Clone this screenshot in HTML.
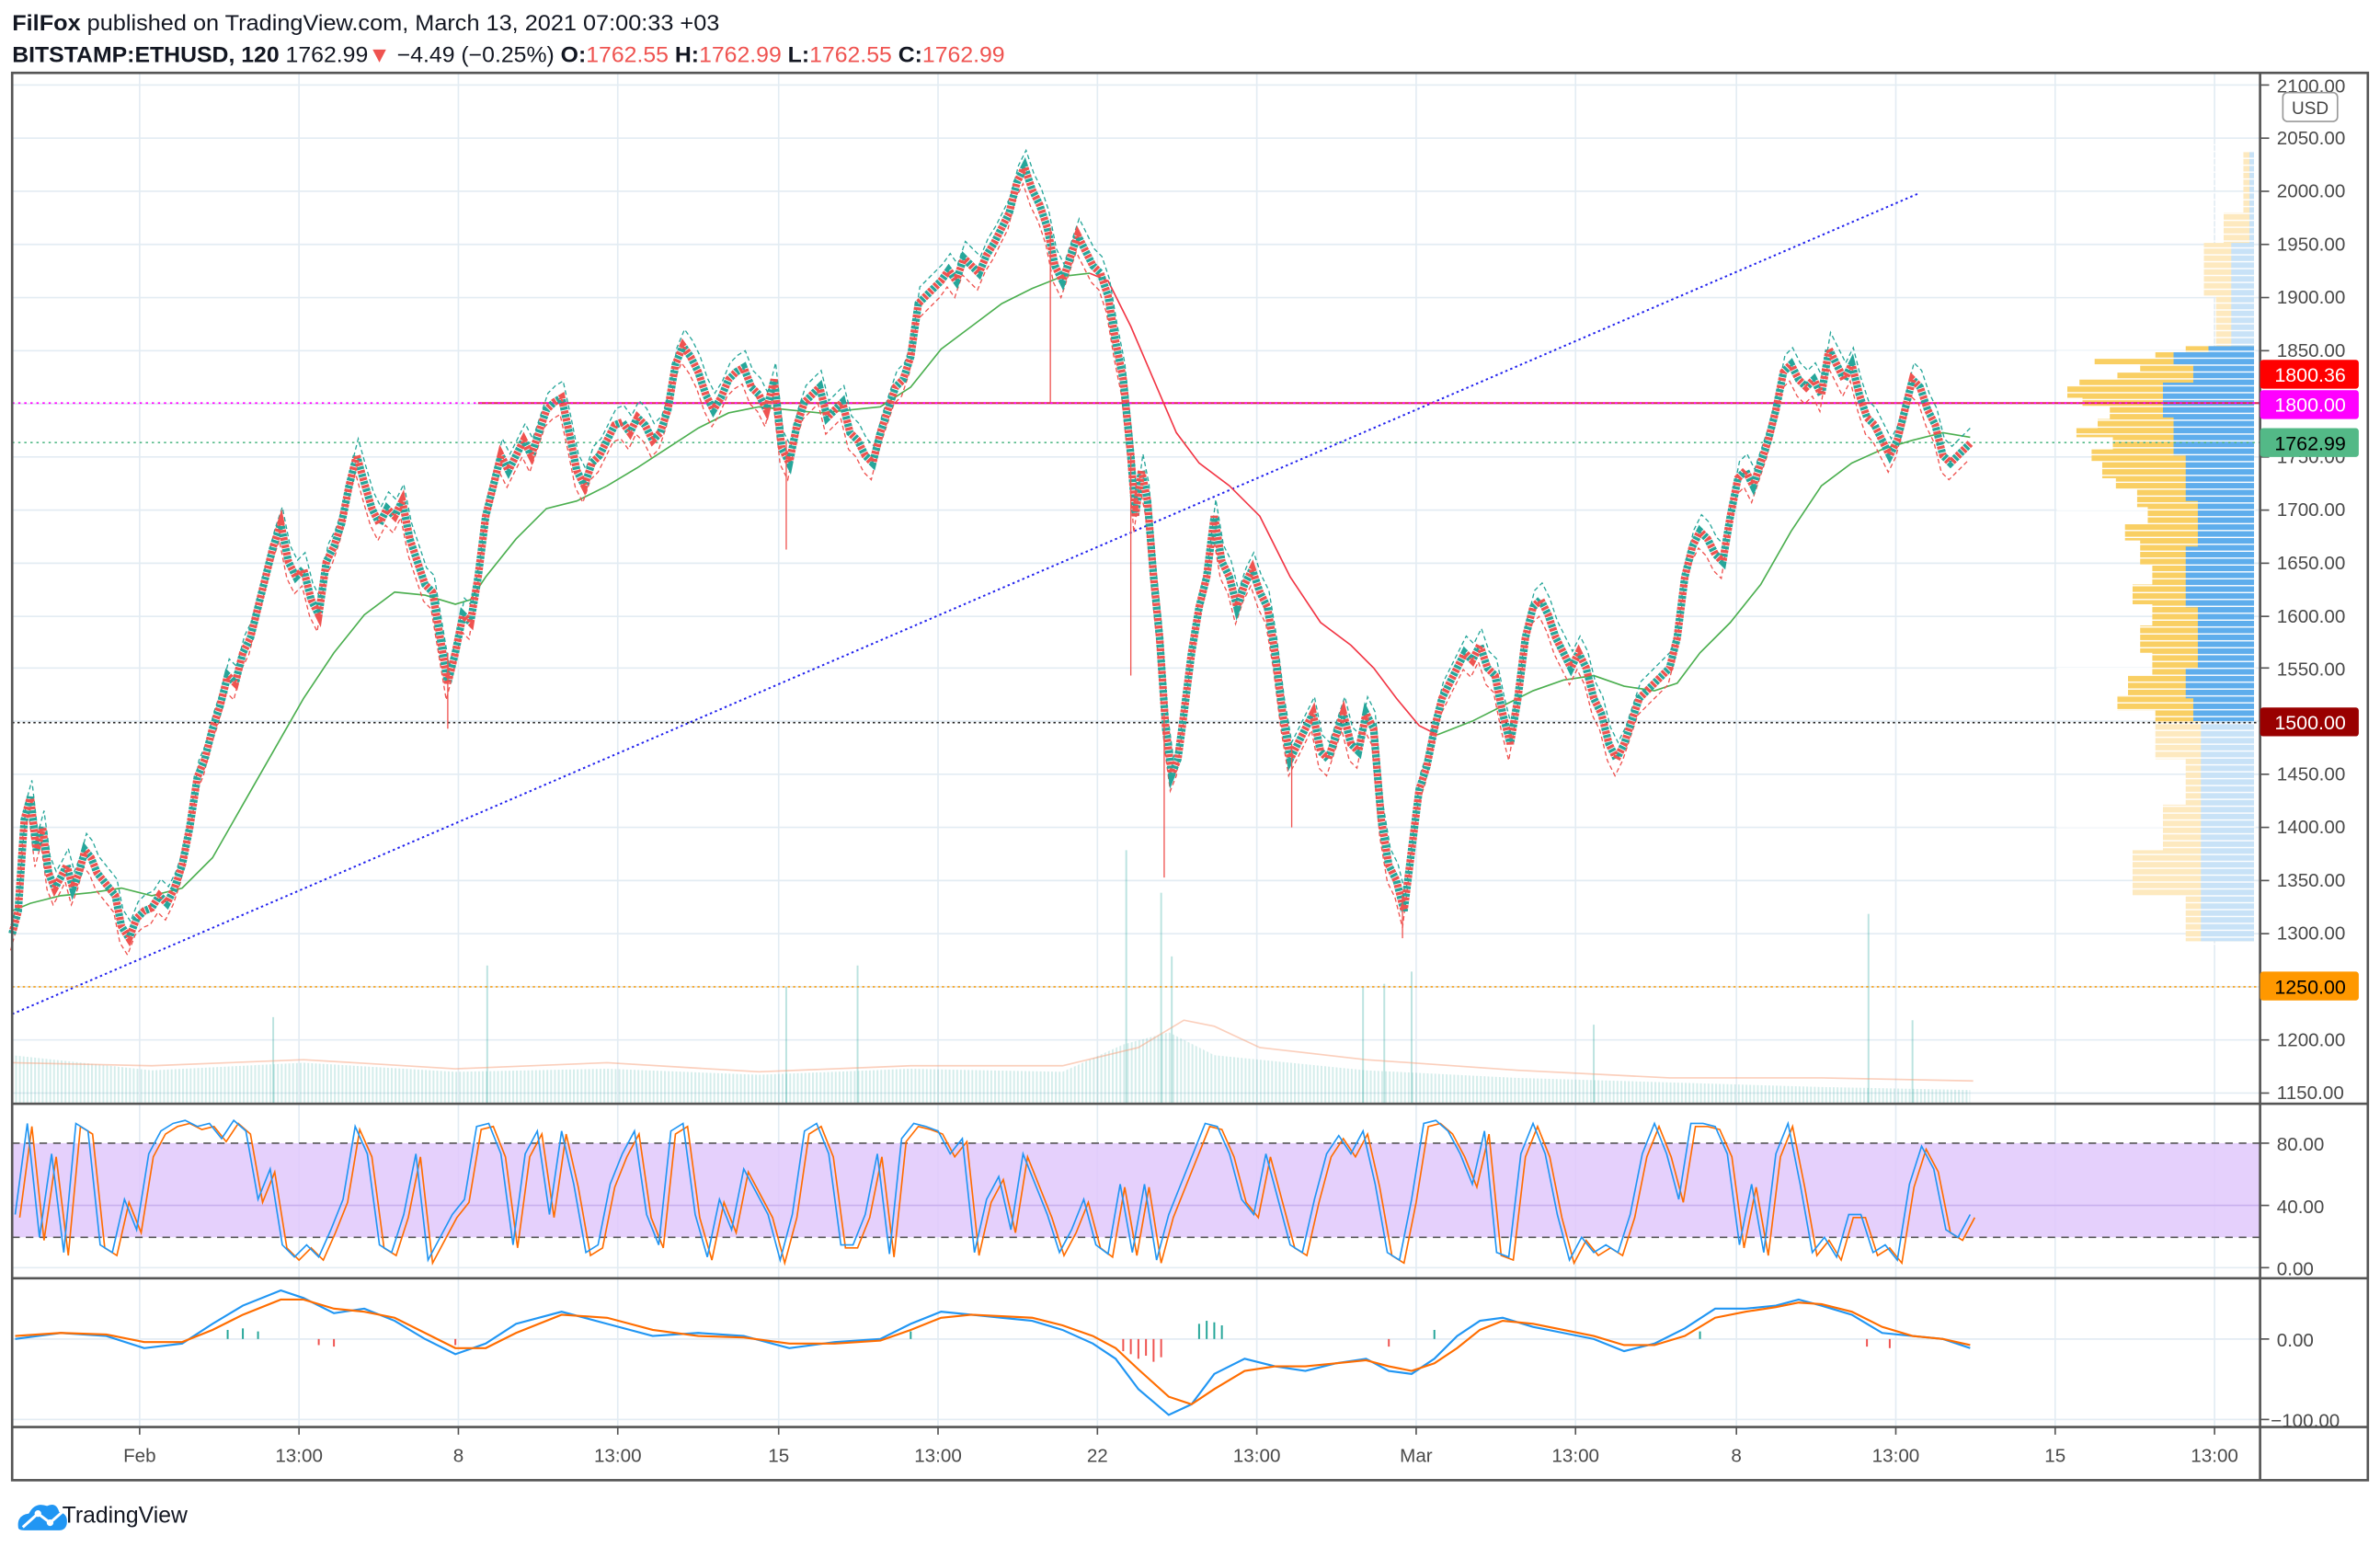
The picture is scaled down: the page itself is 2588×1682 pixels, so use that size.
<!DOCTYPE html>
<html><head><meta charset="utf-8"><style>
html,body{margin:0;padding:0;background:#fff;overflow:hidden}
svg{display:block}
text{font-family:"Liberation Sans",sans-serif}
</style></head><body>
<svg xmlns="http://www.w3.org/2000/svg" width="2588" height="1682" viewBox="0 0 1568 1019" preserveAspectRatio="none">
<defs>
<pattern id="vs" width="2.5" height="10" patternUnits="userSpaceOnUse"><rect x="0" y="0" width="1.2" height="10" fill="#26a69a" opacity="0.2"/></pattern>
<pattern id="hs" x="0" y="0.3" width="10" height="4.54" patternUnits="userSpaceOnUse"><rect x="0" y="3.7" width="10" height="0.84" fill="#fff"/></pattern>
<polyline id="price" fill="none" points="8,615 12,600 16,540 20,525 24,560 28,545 32,575 36,585 40,578 44,570 48,585 52,575 56,560 60,565 64,575 68,580 72,585 76,590 80,610 85,618 90,605 95,600 100,598 105,590 110,595 115,585 120,570 125,545 130,512 135,500 140,480 145,465 150,445 155,450 160,430 165,420 170,400 175,380 180,360 185,345 190,370 195,380 200,375 205,395 210,405 215,370 220,360 225,345 230,320 235,300 240,318 245,335 250,345 255,335 260,340 265,330 270,355 275,370 280,385 285,390 290,420 295,450 300,430 305,405 310,410 315,380 320,340 325,320 330,300 335,310 340,300 345,290 350,300 355,285 360,270 365,265 370,262 375,285 380,310 385,320 390,305 395,300 400,290 405,280 410,278 415,285 420,275 425,280 430,290 435,285 440,270 445,240 450,228 455,235 460,245 465,260 470,270 475,262 480,250 485,245 490,242 495,255 500,260 505,270 510,250 515,295 520,305 525,280 530,265 535,260 540,255 545,275 550,270 555,265 560,285 565,290 570,300 575,305 580,285 585,270 590,255 595,250 600,235 605,200 610,195 615,190 620,185 625,178 630,185 635,170 640,175 645,180 650,168 655,160 660,150 665,140 670,120 675,110 680,125 685,135 690,150 695,175 700,185 705,170 710,155 715,165 720,175 725,180 730,195 735,225 740,250 745,300 748,340 752,310 756,330 760,380 764,420 768,480 772,510 776,500 780,470 785,430 790,400 795,380 800,340 805,370 810,380 815,400 820,385 825,375 830,390 835,400 840,430 845,470 850,500 855,490 860,480 865,470 870,495 875,500 880,485 885,470 890,490 895,495 900,470 905,480 910,540 915,570 920,580 925,600 930,560 935,520 940,505 945,480 950,460 955,450 960,440 965,430 970,435 975,425 980,440 985,445 990,470 995,490 1000,460 1005,420 1010,400 1015,395 1020,405 1025,420 1030,430 1035,440 1040,430 1045,440 1050,460 1055,470 1060,490 1065,500 1070,490 1075,475 1080,460 1085,455 1090,450 1095,445 1100,440 1105,420 1110,380 1115,360 1120,350 1125,355 1130,365 1135,370 1140,340 1145,315 1150,310 1155,320 1160,305 1165,290 1170,270 1175,245 1180,240 1185,250 1190,255 1195,250 1200,260 1205,230 1210,240 1215,250 1220,240 1225,260 1230,275 1235,280 1240,290 1245,300 1250,290 1255,270 1260,250 1265,255 1270,270 1275,280 1280,300 1285,305 1290,300 1295,295 1298,292"/>
<polyline id="rsi" fill="none" points="10,800 18,740 26,815 34,760 42,825 50,740 58,745 66,820 74,825 82,790 90,810 98,760 106,745 114,740 122,738 130,742 138,740 146,750 154,738 162,745 170,790 178,770 186,820 194,828 202,820 210,828 218,810 226,790 234,742 242,760 250,820 258,825 266,800 274,760 282,830 290,815 298,800 306,790 314,742 322,740 330,760 338,820 346,760 354,745 362,800 370,745 378,780 386,825 394,820 402,780 410,760 418,745 426,800 434,820 442,745 450,740 458,800 466,828 474,790 482,810 490,770 498,785 506,800 514,830 522,800 530,745 538,740 546,760 554,820 562,820 570,800 578,760 586,826 594,750 602,740 610,742 618,745 626,760 634,750 642,825 650,790 658,775 666,810 674,760 682,780 690,800 698,825 706,810 714,790 722,820 730,826 738,780 746,825 754,780 762,830 770,800 778,780 786,760 794,740 802,742 810,760 818,790 826,800 834,760 842,790 850,820 858,825 866,790 874,760 882,748 890,760 898,745 906,780 914,825 922,830 930,790 938,740 946,738 954,745 962,760 970,780 978,745 986,825 994,828 1002,760 1010,740 1018,760 1026,800 1034,830 1042,815 1050,825 1058,820 1066,825 1074,800 1082,760 1090,740 1098,760 1106,790 1114,740 1122,740 1130,742 1138,760 1146,820 1154,780 1162,825 1170,760 1178,740 1186,780 1194,825 1202,815 1210,828 1218,800 1226,800 1234,825 1242,820 1250,830 1258,780 1266,755 1274,770 1282,810 1290,815 1298,800"/>
</defs>
<rect width="1568" height="1019" fill="#fff"/>
<g stroke="#e3ecf3" stroke-width="1">
<line x1="8" x2="1489" y1="56" y2="56"/><line x1="8" x2="1489" y1="91" y2="91"/><line x1="8" x2="1489" y1="126" y2="126"/><line x1="8" x2="1489" y1="161" y2="161"/><line x1="8" x2="1489" y1="196" y2="196"/><line x1="8" x2="1489" y1="231" y2="231"/><line x1="8" x2="1489" y1="266" y2="266"/><line x1="8" x2="1489" y1="301" y2="301"/><line x1="8" x2="1489" y1="336" y2="336"/><line x1="8" x2="1489" y1="371" y2="371"/><line x1="8" x2="1489" y1="406" y2="406"/><line x1="8" x2="1489" y1="440" y2="440"/><line x1="8" x2="1489" y1="475" y2="475"/><line x1="8" x2="1489" y1="510" y2="510"/><line x1="8" x2="1489" y1="545" y2="545"/><line x1="8" x2="1489" y1="580" y2="580"/><line x1="8" x2="1489" y1="615" y2="615"/><line x1="8" x2="1489" y1="650" y2="650"/><line x1="8" x2="1489" y1="685" y2="685"/><line x1="8" x2="1489" y1="720" y2="720"/>
<line x1="8" x2="1489" y1="835" y2="835"/><line x1="8" x2="1489" y1="882" y2="882"/><line x1="8" x2="1489" y1="935" y2="935"/>
<line x1="92" x2="92" y1="48" y2="940"/><line x1="197" x2="197" y1="48" y2="940"/><line x1="302" x2="302" y1="48" y2="940"/><line x1="407" x2="407" y1="48" y2="940"/><line x1="513" x2="513" y1="48" y2="940"/><line x1="618" x2="618" y1="48" y2="940"/><line x1="723" x2="723" y1="48" y2="940"/><line x1="828" x2="828" y1="48" y2="940"/><line x1="933" x2="933" y1="48" y2="940"/><line x1="1038" x2="1038" y1="48" y2="940"/><line x1="1144" x2="1144" y1="48" y2="940"/><line x1="1249" x2="1249" y1="48" y2="940"/><line x1="1354" x2="1354" y1="48" y2="940"/><line x1="1459" x2="1459" y1="48" y2="940"/>
</g>
<rect x="8" y="753" width="1481" height="62" fill="#e1c8fb" opacity="0.85"/>
<line x1="8" y1="753" x2="1489" y2="753" stroke="#555" stroke-dasharray="5,4"/>
<line x1="8" y1="815" x2="1489" y2="815" stroke="#555" stroke-dasharray="5,4"/>
<line x1="8" y1="794" x2="1489" y2="794" stroke="#c9b0ee" stroke-width="1"/>
<polygon fill="url(#vs)" points="8,727 8,695 100,705 200,700 300,706 400,704 500,708 600,704 700,706 740,688 770,680 800,695 900,705 1000,710 1100,713 1200,716 1298,718 1298,727"/>
<g stroke="#26a69a" stroke-width="1.2" opacity="0.3">
<line x1="321" x2="321" y1="727" y2="636"/><line x1="518" x2="518" y1="727" y2="650"/><line x1="565" x2="565" y1="727" y2="636"/><line x1="742" x2="742" y1="727" y2="560"/><line x1="765" x2="765" y1="727" y2="588"/><line x1="772" x2="772" y1="727" y2="630"/><line x1="898" x2="898" y1="727" y2="650"/><line x1="912" x2="912" y1="727" y2="648"/><line x1="930" x2="930" y1="727" y2="640"/><line x1="1231" x2="1231" y1="727" y2="602"/><line x1="1260" x2="1260" y1="727" y2="672"/><line x1="1050" x2="1050" y1="727" y2="675"/><line x1="180" x2="180" y1="727" y2="670"/>
</g>
<polyline fill="none" stroke="#f7a07a" stroke-width="1" opacity="0.5" points="8,700 100,702 200,698 300,704 400,700 500,706 600,702 700,702 750,690 780,672 800,676 830,690 900,698 1000,705 1100,710 1200,710 1300,712"/>
<polygon fill="#fde9bf" points="1485,100 1478,100 1478,140 1465,140 1465,160 1452,160 1452,195 1460,195 1460,228 1485,228"/>
<polygon fill="#c8e2f7" points="1485,100 1482,100 1482,160 1470,160 1470,228 1485,228"/>
<polygon fill="#f9cf63" points="1485,228 1440,228 1440,232 1420,232 1420,236 1380,236 1380,240 1410,240 1410,245 1395,245 1395,250 1370,250 1370,254 1362,254 1362,262 1372,262 1372,268 1390,268 1390,276 1382,276 1382,282 1368,282 1368,288 1392,288 1392,296 1378,296 1378,304 1385,304 1385,315 1394,315 1394,322 1408,322 1408,334 1415,334 1415,345 1400,345 1400,356 1410,356 1410,372 1418,372 1418,385 1405,385 1405,398 1418,398 1418,412 1410,412 1410,430 1418,430 1418,445 1402,445 1402,458 1395,458 1395,468 1420,468 1420,475 1485,475"/>
<polygon fill="#5eadec" points="1485,228 1455,228 1455,232 1432,232 1432,240 1445,240 1445,252 1425,252 1425,275 1432,275 1432,300 1440,300 1440,330 1448,330 1448,360 1440,360 1440,400 1448,400 1448,440 1440,440 1440,460 1445,460 1445,475 1485,475"/>
<polygon fill="#fde9bf" points="1485,475 1420,475 1420,500 1440,500 1440,530 1425,530 1425,560 1405,560 1405,590 1440,590 1440,620 1485,620"/>
<polygon fill="#c8e2f7" points="1485,475 1450,475 1450,620 1485,620"/>
<rect x="1355" y="95" width="131" height="530" fill="url(#hs)"/>
<line x1="8" y1="668" x2="1265" y2="127" stroke="#2222ee" stroke-width="1.2" stroke-dasharray="1.5,2"/>
<line x1="315" y1="265.5" x2="1489" y2="265.5" stroke="#e0284a" stroke-width="1.2"/>
<line x1="8" y1="265.5" x2="1489" y2="265.5" stroke="#ff00ff" stroke-width="1" stroke-dasharray="1.5,2.5"/>
<line x1="8" y1="291.5" x2="1489" y2="291.5" stroke="#53b987" stroke-width="1" stroke-dasharray="1.5,2.5"/>
<line x1="8" y1="476" x2="1489" y2="476" stroke="#222" stroke-width="1" stroke-dasharray="1.5,2"/>
<line x1="8" y1="650" x2="1489" y2="650" stroke="#f7a21b" stroke-width="1" stroke-dasharray="1.5,2"/>
<polyline fill="none" stroke="#4caf50" stroke-width="1" points="8,600 20,595 40,590 60,588 80,585 100,590 120,585 140,565 160,530 180,495 200,460 220,430 240,405 260,390 280,392 300,398 310,395 320,380 340,355 360,335 380,330 400,320 420,308 440,295 460,282 480,272 500,268 520,270 540,272 560,270 580,268 600,255 620,230 640,215 660,200 680,190 700,182 718,180"/>
<polyline fill="none" stroke="#f23645" stroke-width="1" points="718,180 730,185 745,215 760,250 775,285 790,305 810,320 830,340 850,380 870,410 890,425 905,440 920,460 935,478 947,484"/>
<polyline fill="none" stroke="#4caf50" stroke-width="1" points="947,484 970,475 990,465 1010,455 1030,448 1050,445 1070,452 1090,455 1105,450 1120,430 1140,410 1160,385 1180,350 1200,320 1220,305 1240,296 1260,290 1280,285 1298,288"/>
<use href="#price" stroke="#26a69a" stroke-width="0.8" stroke-dasharray="3,2" transform="translate(1,-11)"/>
<use href="#price" stroke="#ef5350" stroke-width="0.8" stroke-dasharray="3,2" transform="translate(-1,11)"/>
<use href="#price" stroke="#26a69a" stroke-width="5" stroke-dasharray="2,3"/>
<use href="#price" stroke="#ef5350" stroke-width="5" stroke-dasharray="2,3" stroke-dashoffset="2.5"/>
<g stroke="#ef5350" stroke-width="0.8">
<line x1="692" x2="692" y1="150" y2="265"/><line x1="745" x2="745" y1="300" y2="445"/><line x1="767" x2="767" y1="470" y2="578"/><line x1="518" x2="518" y1="290" y2="362"/><line x1="295" x2="295" y1="430" y2="480"/><line x1="924" x2="924" y1="590" y2="618"/><line x1="851" x2="851" y1="490" y2="545"/>
</g>
<use href="#rsi" stroke="#ff6d00" stroke-width="1" transform="translate(3,2)"/>
<use href="#rsi" stroke="#2196f3" stroke-width="1"/>
<g stroke-width="1.2">
<g stroke="#26a69a"><line x1="150" x2="150" y1="882" y2="876"/><line x1="160" x2="160" y1="882" y2="875"/><line x1="170" x2="170" y1="882" y2="877"/><line x1="600" x2="600" y1="882" y2="877"/><line x1="790" x2="790" y1="882" y2="872"/><line x1="795" x2="795" y1="882" y2="870"/><line x1="800" x2="800" y1="882" y2="871"/><line x1="805" x2="805" y1="882" y2="873"/><line x1="945" x2="945" y1="882" y2="876"/><line x1="1120" x2="1120" y1="882" y2="877"/></g>
<g stroke="#ef5350"><line x1="740" x2="740" y1="882" y2="890"/><line x1="745" x2="745" y1="882" y2="892"/><line x1="750" x2="750" y1="882" y2="895"/><line x1="755" x2="755" y1="882" y2="893"/><line x1="760" x2="760" y1="882" y2="897"/><line x1="765" x2="765" y1="882" y2="894"/><line x1="210" x2="210" y1="882" y2="886"/><line x1="220" x2="220" y1="882" y2="887"/><line x1="300" x2="300" y1="882" y2="886"/><line x1="915" x2="915" y1="882" y2="887"/><line x1="1230" x2="1230" y1="882" y2="887"/><line x1="1245" x2="1245" y1="882" y2="888"/></g>
</g>
<polyline fill="none" stroke="#2196f3" stroke-width="1.3" points="10,882 40,878 70,880 95,888 120,885 140,872 160,860 185,850 200,855 220,865 240,862 260,870 280,882 300,892 320,885 340,872 370,864 400,872 430,880 460,878 490,880 520,888 550,884 580,882 600,872 620,864 640,866 660,868 680,870 700,876 720,885 735,895 750,915 770,932 785,925 800,905 820,895 840,900 860,903 880,898 900,895 915,903 930,905 945,895 960,880 975,870 990,868 1010,874 1030,878 1050,882 1070,890 1090,885 1110,875 1130,862 1150,862 1170,860 1185,856 1200,860 1220,866 1240,878 1260,880 1280,882 1298,888"/>
<polyline fill="none" stroke="#ff6d00" stroke-width="1.3" points="10,880 40,878 70,879 95,884 120,884 140,876 160,866 185,856 200,856 220,862 240,864 260,868 280,878 300,888 320,888 340,878 370,866 400,868 430,876 460,880 490,881 520,885 550,885 580,883 600,876 620,868 640,866 660,867 680,868 700,873 720,880 735,888 750,902 770,920 785,925 800,915 820,903 840,900 860,900 880,898 900,896 915,900 930,903 945,898 960,888 975,876 990,870 1010,872 1030,876 1050,880 1070,886 1090,886 1110,880 1130,868 1150,864 1170,861 1185,858 1200,859 1220,864 1240,874 1260,880 1280,882 1298,886"/>
<g fill="none" stroke="#555" stroke-width="1.6">
<rect x="8" y="48" width="1552" height="927"/>
<line x1="1489" y1="48" x2="1489" y2="975"/>
<line x1="8" y1="727" x2="1560" y2="727"/>
<line x1="8" y1="842" x2="1560" y2="842"/>
<line x1="8" y1="940" x2="1560" y2="940"/>
</g>
<g stroke="#555" stroke-width="1">
<line x1="1489" x2="1495" y1="56" y2="56"/><line x1="1489" x2="1495" y1="91" y2="91"/><line x1="1489" x2="1495" y1="126" y2="126"/><line x1="1489" x2="1495" y1="161" y2="161"/><line x1="1489" x2="1495" y1="196" y2="196"/><line x1="1489" x2="1495" y1="231" y2="231"/><line x1="1489" x2="1495" y1="301" y2="301"/><line x1="1489" x2="1495" y1="336" y2="336"/><line x1="1489" x2="1495" y1="371" y2="371"/><line x1="1489" x2="1495" y1="406" y2="406"/><line x1="1489" x2="1495" y1="440" y2="440"/><line x1="1489" x2="1495" y1="510" y2="510"/><line x1="1489" x2="1495" y1="545" y2="545"/><line x1="1489" x2="1495" y1="580" y2="580"/><line x1="1489" x2="1495" y1="615" y2="615"/><line x1="1489" x2="1495" y1="685" y2="685"/><line x1="1489" x2="1495" y1="720" y2="720"/>
<line x1="1489" x2="1495" y1="753" y2="753"/><line x1="1489" x2="1495" y1="794" y2="794"/><line x1="1489" x2="1495" y1="835" y2="835"/><line x1="1489" x2="1495" y1="882" y2="882"/><line x1="1489" x2="1495" y1="935" y2="935"/>
<line x1="92" x2="92" y1="940" y2="945"/><line x1="197" x2="197" y1="940" y2="945"/><line x1="302" x2="302" y1="940" y2="945"/><line x1="407" x2="407" y1="940" y2="945"/><line x1="513" x2="513" y1="940" y2="945"/><line x1="618" x2="618" y1="940" y2="945"/><line x1="723" x2="723" y1="940" y2="945"/><line x1="828" x2="828" y1="940" y2="945"/><line x1="933" x2="933" y1="940" y2="945"/><line x1="1038" x2="1038" y1="940" y2="945"/><line x1="1144" x2="1144" y1="940" y2="945"/><line x1="1249" x2="1249" y1="940" y2="945"/><line x1="1354" x2="1354" y1="940" y2="945"/><line x1="1459" x2="1459" y1="940" y2="945"/>
</g>
<g font-size="12.5" fill="#4a4a4a">
<text x="1500" y="61">2100.00</text><text x="1500" y="95">2050.00</text><text x="1500" y="130">2000.00</text><text x="1500" y="165">1950.00</text><text x="1500" y="200">1900.00</text><text x="1500" y="235">1850.00</text><text x="1500" y="305">1750.00</text><text x="1500" y="340">1700.00</text><text x="1500" y="375">1650.00</text><text x="1500" y="410">1600.00</text><text x="1500" y="445">1550.00</text><text x="1500" y="514">1450.00</text><text x="1500" y="549">1400.00</text><text x="1500" y="584">1350.00</text><text x="1500" y="619">1300.00</text><text x="1500" y="689">1200.00</text><text x="1500" y="724">1150.00</text>
<text x="1500" y="758">80.00</text><text x="1500" y="799">40.00</text><text x="1500" y="840">0.00</text><text x="1500" y="887">0.00</text><text x="1496" y="940">−100.00</text>
</g>
<g font-size="12.5" fill="#4a4a4a" text-anchor="middle">
<text x="92" y="963">Feb</text><text x="197" y="963">13:00</text><text x="302" y="963">8</text><text x="407" y="963">13:00</text><text x="513" y="963">15</text><text x="618" y="963">13:00</text><text x="723" y="963">22</text><text x="828" y="963">13:00</text><text x="933" y="963">Mar</text><text x="1038" y="963">13:00</text><text x="1144" y="963">8</text><text x="1249" y="963">13:00</text><text x="1354" y="963">15</text><text x="1459" y="963">13:00</text>
</g>
<text x="8" y="20" font-size="14.5" fill="#131722" textLength="466" lengthAdjust="spacingAndGlyphs"><tspan font-weight="bold">FilFox</tspan> published on TradingView.com, March 13, 2021 07:00:33 +03</text>
<text x="8" y="41" font-size="14.5" fill="#131722" textLength="654" lengthAdjust="spacingAndGlyphs"><tspan font-weight="bold">BITSTAMP:ETHUSD, 120</tspan> 1762.99<tspan fill="#ef5350">▼</tspan> −4.49 (−0.25%) <tspan font-weight="bold">O:</tspan><tspan fill="#ef5350">1762.55</tspan> <tspan font-weight="bold">H:</tspan><tspan fill="#ef5350">1762.99</tspan> <tspan font-weight="bold">L:</tspan><tspan fill="#ef5350">1762.55</tspan> <tspan font-weight="bold">C:</tspan><tspan fill="#ef5350">1762.99</tspan></text>
<rect x="1504" y="61" width="36" height="19" rx="3" fill="#fff" stroke="#999"/>
<text x="1522" y="75" font-size="11.5" fill="#444" text-anchor="middle">USD</text>
<rect x="1489" y="237" width="65" height="19" rx="2" fill="#ff0000"/>
<text x="1522" y="251.5" font-size="13" fill="#fff" text-anchor="middle">1800.36</text>
<rect x="1489" y="257" width="65" height="19" rx="2" fill="#ff00ff"/>
<text x="1522" y="271" font-size="13" fill="#fff" text-anchor="middle">1800.00</text>
<rect x="1489" y="282" width="65" height="19" rx="2" fill="#53b987"/>
<text x="1522" y="296.5" font-size="13" fill="#000" text-anchor="middle">1762.99</text>
<rect x="1489" y="466" width="65" height="19" rx="2" fill="#990000"/>
<text x="1522" y="480.5" font-size="13" fill="#fff" text-anchor="middle">1500.00</text>
<rect x="1489" y="640" width="65" height="19" rx="2" fill="#ff9800"/>
<text x="1522" y="654.5" font-size="13" fill="#000" text-anchor="middle">1250.00</text>
<g transform="translate(11,988)">
<path d="M1,18 Q0,10 8,9 Q12,1 20,4 Q26,1 28,8 Q34,9 33,16 Q32,20 28,20 L5,20 Q1,20 1,18Z" fill="#2196f3"/>
<polyline points="4,18 14,9 22,15 30,8" fill="none" stroke="#fff" stroke-width="1.8"/>
<circle cx="14" cy="9" r="2.2" fill="#fff"/><circle cx="22" cy="15" r="2.2" fill="#fff"/>
</g>
<text x="41" y="1003" font-size="15" fill="#131722">TradingView</text>
</svg>
</body></html>
